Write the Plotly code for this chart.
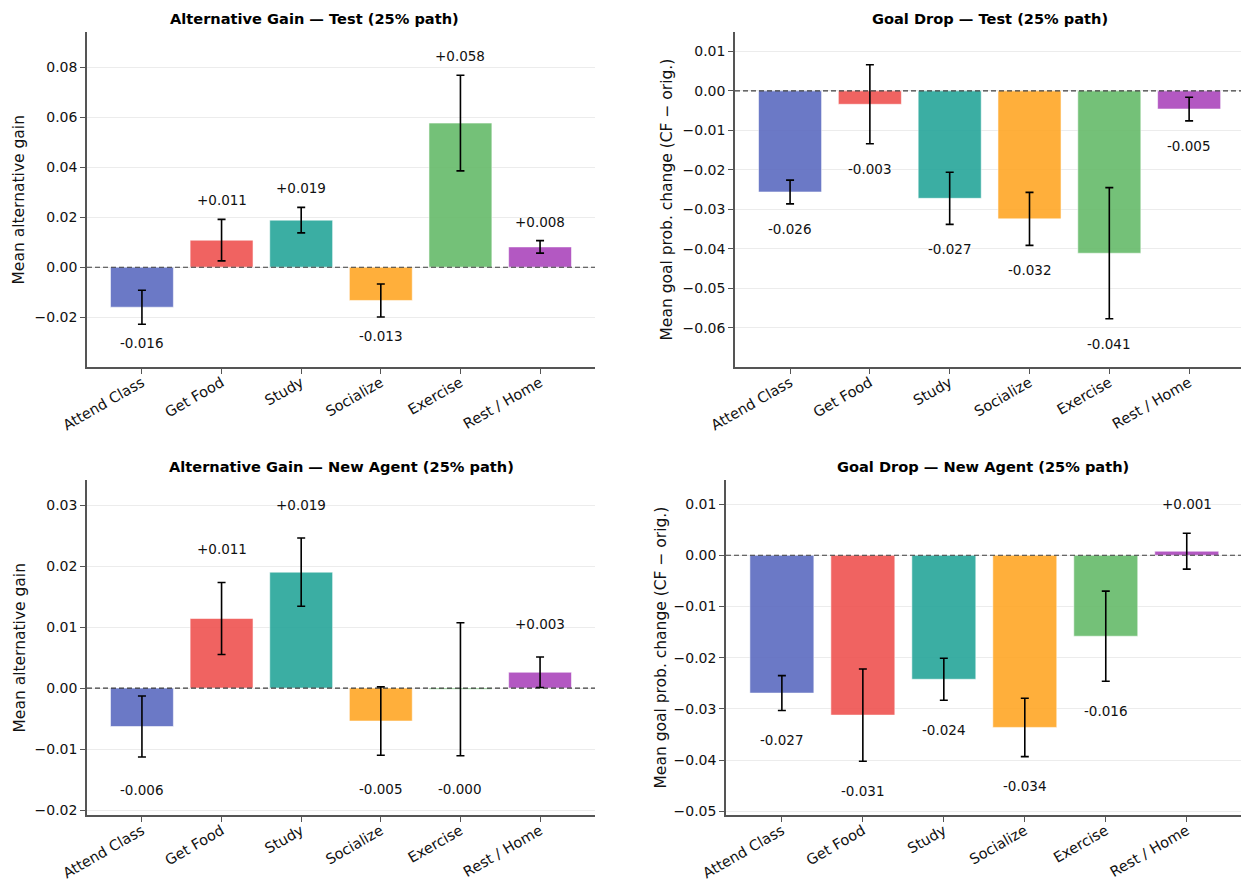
import plotly.graph_objects as go

# Activity categories shared by all four panels
categories = ["Attend Class", "Get Food", "Study", "Socialize", "Exercise", "Rest / Home"]

# Alternative gain, test set
gain_test = [-0.0160, 0.0108, 0.0188, -0.0133, 0.0576, 0.0081]
gain_test_err = [0.0068, 0.0083, 0.0051, 0.0066, 0.0191, 0.0025]

# Goal probability drop, test set
drop_test = [-0.0256, -0.0034, -0.0272, -0.0324, -0.0411, -0.0046]
drop_test_err = [0.0030, 0.0100, 0.0066, 0.0067, 0.0166, 0.0030]

# Alternative gain, new agent
gain_new = [-0.0063, 0.0114, 0.0190, -0.0054, -0.0002, 0.0026]
gain_new_err = [0.0050, 0.0059, 0.0056, 0.0056, 0.0109, 0.0025]

# Goal probability drop, new agent
drop_new = [-0.0269, -0.0312, -0.0242, -0.0336, -0.0158, 0.0008]
drop_new_err = [0.0034, 0.0090, 0.0041, 0.0057, 0.0088, 0.0035]

colors = ["#5C6BC0", "#EF5350", "#26A69A", "#FFA726", "#66BB6A", "#AB47BC"]

W, H = 1241, 881
FONT = "DejaVu Sans"
LABEL_PAD = 0.004


def px_x(a, b):
    return [a / W, min(b / W, 1.0)]


def px_y(top, bottom):
    return [1 - bottom / H, 1 - top / H]


panels = [
    dict(values=gain_test, errs=gain_test_err,
         title="Alternative Gain — Test (25% path)", ylabel="Mean alternative gain",
         xdom=px_x(87, 595), ydom=px_y(32, 367), xrange=[-0.69, 5.69],
         yrange=[-0.0399, 0.094], ticks=[-0.02, 0.0, 0.02, 0.04, 0.06, 0.08],
         ylab_x=19, title_x=314),
    dict(values=drop_test, errs=drop_test_err,
         title="Goal Drop — Test (25% path)", ylabel="Mean goal prob. change (CF − orig.)",
         xdom=px_x(735, 1241), ydom=px_y(32, 367), xrange=[-0.69, 5.65],
         yrange=[-0.0699, 0.0149], ticks=[-0.06, -0.05, -0.04, -0.03, -0.02, -0.01, 0.0, 0.01],
         ylab_x=667, title_x=990),
    dict(values=gain_new, errs=gain_new_err,
         title="Alternative Gain — New Agent (25% path)", ylabel="Mean alternative gain",
         xdom=px_x(87, 595), ydom=px_y(480, 815), xrange=[-0.69, 5.69],
         yrange=[-0.0208, 0.0341], ticks=[-0.02, -0.01, 0.0, 0.01, 0.02, 0.03],
         ylab_x=19, title_x=341),
    dict(values=drop_new, errs=drop_new_err,
         title="Goal Drop — New Agent (25% path)", ylabel="Mean goal prob. change (CF − orig.)",
         xdom=px_x(726, 1241), ydom=px_y(480, 815), xrange=[-0.69, 5.67],
         yrange=[-0.0507, 0.0147], ticks=[-0.05, -0.04, -0.03, -0.02, -0.01, 0.0, 0.01],
         ylab_x=660, title_x=983),
]

fig = go.Figure()
annotations = []
shapes = []
layout_axes = {}

for i, p in enumerate(panels, start=1):
    xa = "x" if i == 1 else f"x{i}"
    ya = "y" if i == 1 else f"y{i}"
    xkey = "xaxis" if i == 1 else f"xaxis{i}"
    ykey = "yaxis" if i == 1 else f"yaxis{i}"

    fig.add_trace(go.Bar(
        x=list(range(len(categories))), y=p["values"],
        width=0.79,
        marker=dict(color=colors, opacity=0.9,
                    line=dict(color="rgba(255,255,255,0.7)", width=0.8)),
        error_y=dict(type="data", array=p["errs"], visible=True,
                     color="black", thickness=1.6, width=4),
        xaxis=xa, yaxis=ya, showlegend=False, hoverinfo="skip",
    ))

    # value labels beyond the error bar ends
    for j, (v, e) in enumerate(zip(p["values"], p["errs"])):
        if v >= 0:
            y, anchor = v + e + LABEL_PAD, "bottom"
        else:
            y, anchor = v - e - LABEL_PAD, "top"
        annotations.append(dict(
            x=j, y=y, xref=xa, yref=ya, text=f"{v:+.3f}",
            showarrow=False, yanchor=anchor, xanchor="center",
            font=dict(family=FONT, size=13.5, color="#111"), borderpad=0,
        ))

    # dashed zero reference line
    shapes.append(dict(
        type="line", xref=f"{xa} domain", yref=ya, x0=0, x1=1, y0=0, y1=0,
        line=dict(color="rgba(30,30,30,0.85)", width=1.1, dash="5px,3px"), layer="above",
    ))

    yd = p["ydom"]
    # panel title
    annotations.append(dict(
        x=p["title_x"] / W, y=yd[1] + 13 / H, xref="paper", yref="paper",
        text=f"<b>{p['title']}</b>",
        showarrow=False, xanchor="center", yanchor="middle",
        font=dict(family=FONT, size=14.6, color="#000"),
    ))

    # y-axis title
    annotations.append(dict(
        x=p["ylab_x"] / W, y=(yd[0] + yd[1]) / 2, xref="paper", yref="paper",
        text=p["ylabel"], textangle=-90, showarrow=False,
        xanchor="center", yanchor="middle",
        font=dict(family=FONT, size=15.5, color="#111"),
    ))

    layout_axes[xkey] = dict(
        domain=p["xdom"], anchor=ya, range=p["xrange"], automargin=False,
        tickmode="array", tickvals=list(range(len(categories))), ticktext=categories,
        tickangle=-30, ticks="outside", ticklen=5, tickwidth=1.2, tickcolor="#555",
        ticklabelstandoff=-5,
        showline=True, linecolor="#555", linewidth=1.5, showgrid=False, zeroline=False,
        tickfont=dict(family=FONT, size=14.5, color="#111"),
    )
    layout_axes[ykey] = dict(
        domain=p["ydom"], anchor=xa, range=p["yrange"], automargin=False,
        tickmode="array", tickvals=p["ticks"], tickformat=".2f",
        ticks="outside", ticklen=5, tickwidth=1.2, tickcolor="#555",
        showline=True, linecolor="#555", linewidth=1.5,
        showgrid=True, gridcolor="#ececec", gridwidth=1, zeroline=False,
        tickfont=dict(family=FONT, size=14, color="#111"),
    )

fig.update_layout(
    width=W, height=H,
    margin=dict(l=0, r=0, t=0, b=0, autoexpand=False),
    paper_bgcolor="white", plot_bgcolor="white",
    font=dict(family=FONT),
    annotations=annotations, shapes=shapes,
    bargap=0.2,
    **layout_axes,
)

fig.write_html("out.html")
